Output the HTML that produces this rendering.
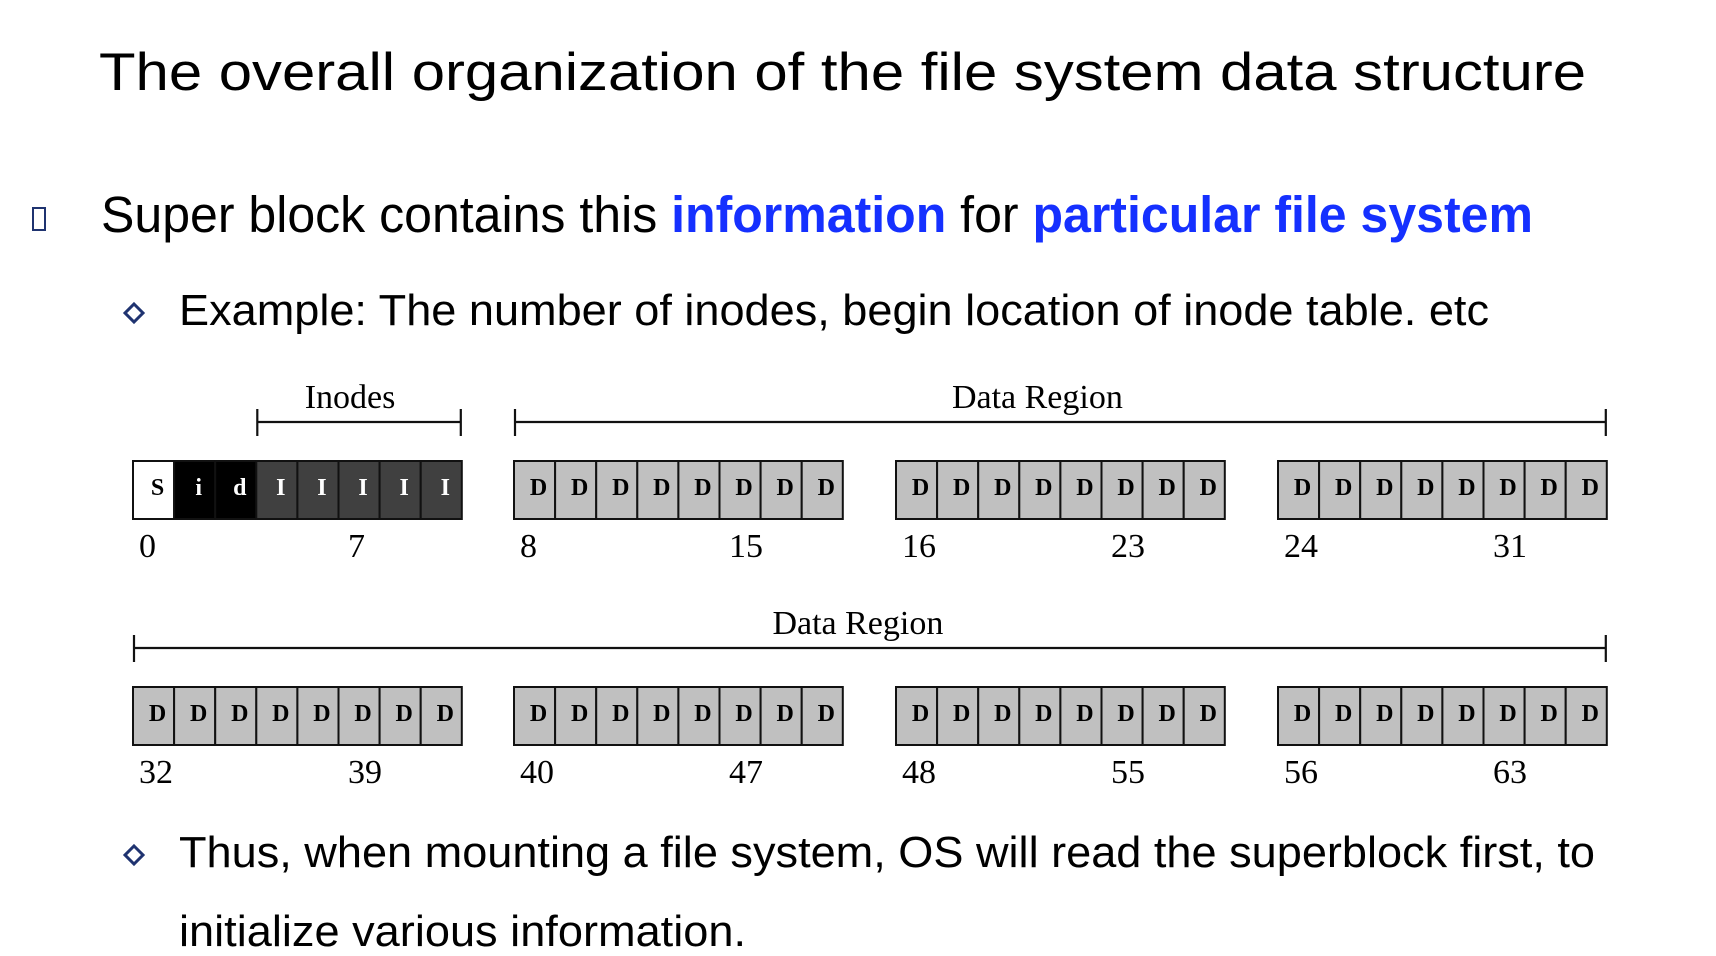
<!DOCTYPE html>
<html><head><meta charset="utf-8"><style>
html,body{margin:0;padding:0;background:#fff;}
svg{display:block;}
.sans{font-family:"Liberation Sans",Arial,sans-serif;}
.serif{font-family:"Liberation Serif","Times New Roman",serif;}
</style></head><body>
<svg id="s" width="1716" height="956" viewBox="0 0 1716 956" xmlns="http://www.w3.org/2000/svg">
<text class="sans" x="99" y="90" font-size="53" textLength="1487" lengthAdjust="spacingAndGlyphs">The overall organization of the file system data structure</text>
<rect x="33" y="208" width="12" height="22" fill="none" stroke="#1f3370" stroke-width="2"/>
<text class="sans" x="101" y="232" font-size="51" textLength="1432" lengthAdjust="spacingAndGlyphs">Super block contains this <tspan fill="#1530ff" font-weight="bold">information</tspan> for <tspan fill="#1530ff" font-weight="bold">particular file system</tspan></text>
<path d="M134 304 L143 313 L134 322 L125 313 Z" fill="none" stroke="#1f3370" stroke-width="3"/>
<text class="sans" x="179" y="325" font-size="44" textLength="1310" lengthAdjust="spacingAndGlyphs">Example: The number of inodes, begin location of inode table. etc</text>
<g id="diagram"></g>
<path d="M134 846 L143 855 L134 864 L125 855 Z" fill="none" stroke="#1f3370" stroke-width="3"/>
<text class="sans" x="179" y="867" font-size="44" textLength="1416" lengthAdjust="spacingAndGlyphs">Thus, when mounting a file system, OS will read the superblock first, to</text>
<text class="sans" x="179" y="946" font-size="44" textLength="567" lengthAdjust="spacingAndGlyphs">initialize various information.</text>
</svg>
<script>
// data
const blockLabels = ["S","i","d","I","I","I","I","I"].concat(Array(56).fill("D"));
const blockTypes = ["super","bitmap","bitmap","inode","inode","inode","inode","inode"].concat(Array(56).fill("data"));
const indexLabels = [0,7,8,15,16,23,24,31,32,39,40,47,48,55,56,63];
const brackets = [
  {label:"Inodes", from:3, to:7},
  {label:"Data Region", from:8, to:31},
  {label:"Data Region", from:32, to:63}
];
const labelShift=[-9,-23,-12];
const NS="http://www.w3.org/2000/svg";
const g=document.getElementById('diagram');
const groupLeft=[133,514,896,1278], bw=41.1, rowTop=[461,687], bh=58;
const fills={super:"#ffffff",bitmap:"#000000",inode:"#404040",data:"#c0c0c0"};
const txt={super:"#000",bitmap:"#fff",inode:"#fff",data:"#000"};
function bx(i){const gi=Math.floor((i%32)/8),k=i%8;return groupLeft[gi]+k*bw;}
function by(i){return rowTop[Math.floor(i/32)];}
function mk(tag,attrs){const e=document.createElementNS(NS,tag);for(const k in attrs)e.setAttribute(k,attrs[k]);g.appendChild(e);return e;}
blockLabels.forEach((lab,i)=>{
  const t=blockTypes[i];
  const r=mk('rect',{x:bx(i),y:by(i),width:bw,height:bh,fill:fills[t],stroke:"#111","stroke-width":2});
  
  
  const tx=mk('text',{x:bx(i)+bw/2+4,y:by(i)+34,"text-anchor":"middle","font-size":24,"font-weight":"bold",fill:txt[t],"class":"serif"});
  tx.textContent=lab;
  
  
});
indexLabels.forEach((n)=>{
  const first=(n%8===0);
  const x=first?bx(n)+6:bx(n-7)+215;
  const t=mk('text',{x:x,y:by(n)+96,"font-size":34,"class":"serif",fill:"#000"});
  t.textContent=n;
  
  
});
brackets.forEach((b,j)=>{
  const x1=bx(b.from)+1,x2=bx(b.to)+bw-1,y=by(b.from)-39;
  const p=mk('path',{d:`M${x1} ${y-13}V${y+14}M${x1} ${y}H${x2}M${x2} ${y-13}V${y+14}`,stroke:"#111","stroke-width":2.2,fill:"none"});
  
  
  const t=mk('text',{x:(x1+x2)/2+labelShift[j],y:y-14,"text-anchor":"middle","font-size":34,"class":"serif"});
  t.textContent=b.label;
  
  
});
</script>
</body></html>
